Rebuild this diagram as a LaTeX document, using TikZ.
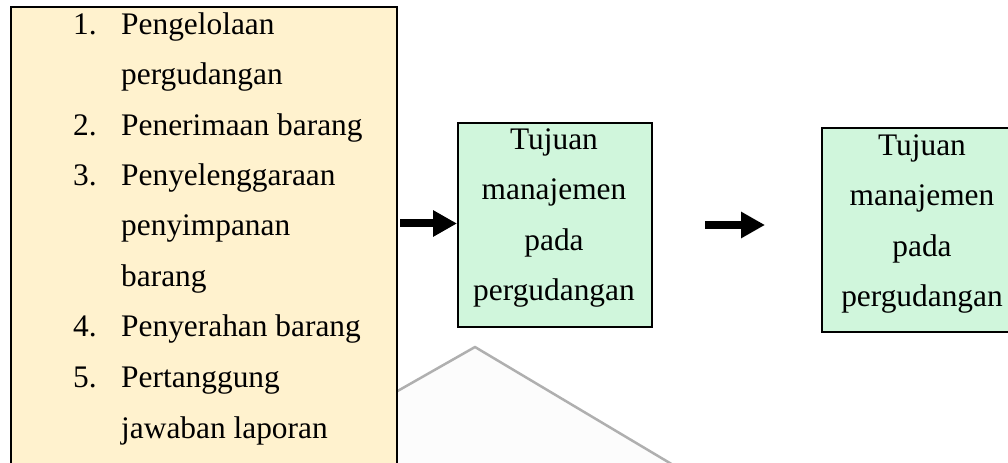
\documentclass[tikz,border=0pt]{standalone}
\usepackage{fontspec}
\setmainfont{Liberation Serif}
\usetikzlibrary{arrows.meta}
\definecolor{boxyellow}{RGB}{255,242,206}
\definecolor{boxgreen}{RGB}{208,246,220}
\definecolor{wmgray}{RGB}{150,150,150}
\begin{document}
\begin{tikzpicture}[x=1bp,y=-1bp,
  txt/.style={font=\fontsize{31.5}{36}\selectfont, inner sep=0pt, anchor=base west},
  ctxt/.style={font=\fontsize{31.5}{36}\selectfont, inner sep=0pt, anchor=base},
  box/.style={draw=black, line width=2bp, inner sep=0pt, anchor=north west},
  fatarrow/.style={line width=8bp, -{Triangle[length=24bp,width=25bp]}}]
\useasboundingbox (0,0) rectangle (1008,463);
\clip (0,0) rectangle (1008,463);
% watermark
\fill[gray!2] (396,392) -- (475,347) -- (700,481) -- (396,481) -- cycle;
\draw[wmgray, line width=2.5bp, opacity=0.75, line join=round] (380,401) -- (475,347) -- (700,481);
% left list box
\node[box, fill=boxyellow, minimum width=386bp, minimum height=490bp] (list) at (10,6) {};
\node[txt] (n1) at (73,35) {1.};
\node[txt] (l1) at (121,35) {Pengelolaan};
\node[txt] (l1b) at (121,85) {pergudangan};
\node[txt] (n2) at (73,136) {2.};
\node[txt] (l2) at (121,136) {Penerimaan barang};
\node[txt] (n3) at (73,186) {3.};
\node[txt] (l3) at (121,186) {Penyelenggaraan};
\node[txt] (l3b) at (121,236) {penyimpanan};
\node[txt] (l3c) at (121,287) {barang};
\node[txt] (n4) at (73,337) {4.};
\node[txt] (l4) at (121,337) {Penyerahan barang};
\node[txt] (n5) at (73,388) {5.};
\node[txt] (l5) at (121,388) {Pertanggung};
\node[txt] (l5b) at (121,438) {jawaban laporan};
% green box 1
\node[box, fill=boxgreen, minimum width=194bp, minimum height=204bp] (g1) at (457,122) {};
\node[ctxt] (g1a) at (554,150) {Tujuan};
\node[ctxt] (g1b) at (554,200) {manajemen};
\node[ctxt] (g1c) at (554,251) {pada};
\node[ctxt] (g1d) at (554,301) {pergudangan};
% green box 2
\node[box, fill=boxgreen, minimum width=200bp, minimum height=204bp] (g2) at (821,127) {};
\node[ctxt] (g2a) at (922,156) {Tujuan};
\node[ctxt] (g2b) at (922,206) {manajemen};
\node[ctxt] (g2c) at (922,257) {pada};
\node[ctxt] (g2d) at (922,307) {pergudangan};
% arrows
\coordinate (a1s) at (list.east |- 0,223.5);
\coordinate (a1e) at (g1.west |- 0,223.5);
\draw[fatarrow, shorten <=2bp] (a1s) -- (a1e);
\coordinate (a2s) at (705,225);
\coordinate (a2e) at (765,225);
\draw[fatarrow] (a2s) -- (a2e);
\end{tikzpicture}
\end{document}
